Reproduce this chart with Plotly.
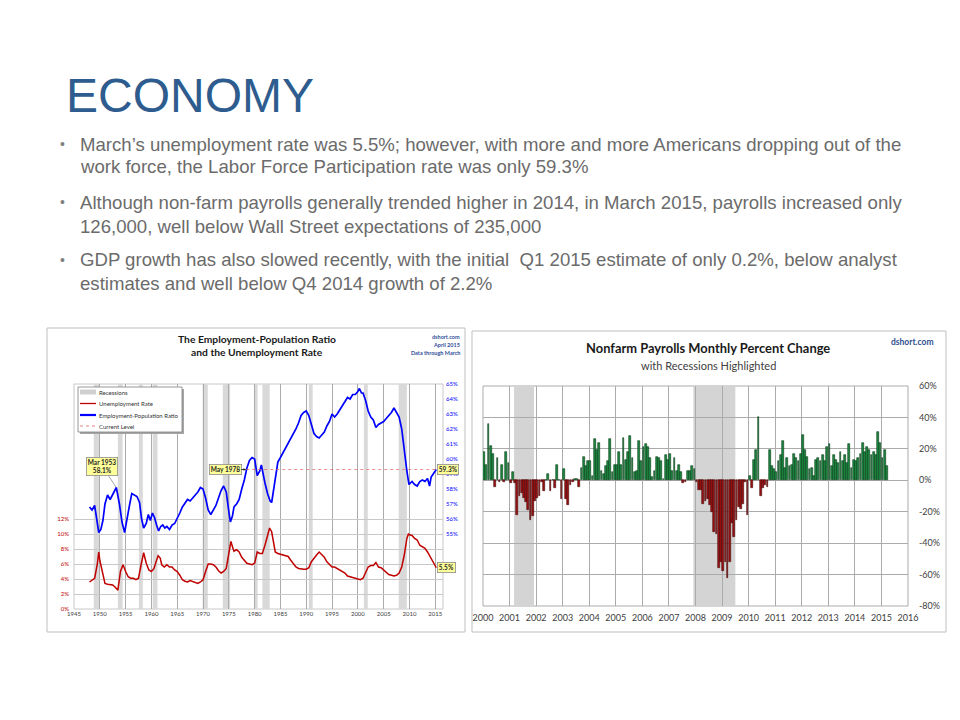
import plotly.graph_objects as go

# The page adds an 8px body margin, so the figure is sized to fill the rest of the window
OFF = 8
W, H = 960 - OFF, 720 - OFF
def px(x): return (x - OFF) / W
def py(y): return 1 - (y - OFF) / H

# ---------------- DATA ----------------
# Recessions (decimal years)
rec_start = [1948.83, 1953.5, 1957.58, 1960.25, 1969.92, 1973.83, 1980.0, 1981.5, 1990.5, 2001.17, 2007.92]
rec_end   = [1949.83, 1954.42, 1958.33, 1961.17, 1970.92, 1975.25, 1980.58, 1982.92, 1991.25, 2001.92, 2009.5]

# Employment-Population Ratio (%)
ep_year = [1948.0, 1948.5, 1949.0, 1949.4, 1949.8, 1950.2, 1950.6, 1951.0, 1951.5, 1952.0, 1952.5, 1953.2,
           1953.8, 1954.3, 1954.8, 1955.3, 1955.8, 1956.2, 1956.7, 1957.2, 1957.7, 1958.1, 1958.5, 1959.0,
           1959.4, 1959.8, 1960.2, 1960.6, 1961.0, 1961.4, 1961.8, 1962.2, 1962.6, 1963.0, 1963.5, 1964.0,
           1964.5, 1965.0, 1965.5, 1966.0, 1966.5, 1967.0, 1967.5, 1968.0, 1968.5, 1969.0, 1969.5, 1970.0,
           1970.5, 1971.0, 1971.5, 1972.0, 1972.5, 1973.0, 1973.5, 1974.0, 1974.5, 1975.0, 1975.3, 1975.7,
           1976.0, 1976.5, 1977.0, 1977.5, 1978.0, 1978.5, 1979.0, 1979.5, 1980.0, 1980.5, 1981.0, 1981.3,
           1981.7, 1982.0, 1982.5, 1983.0, 1983.3, 1983.7, 1984.0, 1984.5, 1985.0, 1985.5, 1986.0, 1986.5,
           1987.0, 1987.5, 1988.0, 1988.5, 1989.0, 1989.5, 1990.0, 1990.5, 1991.0, 1991.5, 1992.0, 1992.5,
           1993.0, 1993.5, 1994.0, 1994.5, 1995.0, 1995.5, 1996.0, 1996.5, 1997.0, 1997.5, 1998.0, 1998.5,
           1999.0, 1999.5, 2000.0, 2000.3, 2000.7, 2001.0, 2001.5, 2002.0, 2002.5, 2003.0, 2003.5, 2004.0,
           2004.5, 2005.0, 2005.5, 2006.0, 2006.5, 2007.0, 2007.5, 2008.0, 2008.5, 2009.0, 2009.5, 2009.9,
           2010.5, 2011.0, 2011.5, 2012.0, 2012.5, 2013.0, 2013.5, 2013.9, 2014.2, 2014.6, 2015.0, 2015.2]
ep_val = [56.8, 56.6, 56.9, 56.0, 55.1, 55.3, 55.9, 57.0, 57.6, 57.3, 57.6, 58.1,
          57.0, 55.8, 55.1, 56.2, 57.0, 57.7, 57.6, 57.5, 57.1, 56.0, 55.4, 55.7,
          56.3, 55.9, 56.4, 56.1, 55.6, 55.2, 55.5, 55.6, 55.4, 55.5, 55.3, 55.6,
          55.7, 56.0, 56.4, 56.8, 57.1, 57.3, 57.2, 57.4, 57.6, 57.8, 58.1, 58.0,
          57.4, 56.6, 56.3, 56.6, 56.9, 57.4, 57.9, 58.2, 57.8, 56.5, 55.8, 56.2,
          56.8, 57.0, 57.3, 58.0, 58.6, 59.4, 59.9, 60.1, 60.0, 58.9, 59.2, 59.6,
          58.8, 58.4, 57.7, 57.2, 57.1, 58.0, 59.0, 59.8, 60.1, 60.4, 60.7, 61.0,
          61.3, 61.7, 62.0, 62.4, 62.9, 63.1, 63.2, 62.9, 62.3, 61.7, 61.5, 61.4,
          61.6, 61.8, 62.2, 62.5, 63.0, 62.8, 63.0, 63.3, 63.6, 63.9, 64.1, 64.0,
          64.3, 64.3, 64.5, 64.7, 64.4, 64.4, 63.9, 63.2, 62.8, 62.6, 62.1, 62.3,
          62.4, 62.5, 62.7, 62.9, 63.1, 63.4, 63.1, 62.8, 62.0, 60.4, 59.2, 58.3,
          58.5, 58.3, 58.2, 58.5, 58.6, 58.5, 58.7, 58.2, 58.8, 59.0, 59.2, 59.3]

# Unemployment Rate (%)
ur_year = [1948.0, 1948.5, 1949.0, 1949.5, 1949.8, 1950.0, 1950.5, 1951.0, 1951.5, 1952.0, 1952.5, 1953.0,
           1953.5, 1954.0, 1954.5, 1955.0, 1955.5, 1956.0, 1956.5, 1957.0, 1957.5, 1958.0, 1958.5, 1959.0,
           1959.5, 1960.0, 1960.5, 1961.0, 1961.3, 1961.7, 1962.0, 1962.5, 1963.0, 1963.5, 1964.0, 1964.5,
           1965.0, 1965.5, 1966.0, 1966.5, 1967.0, 1967.5, 1968.0, 1968.5, 1969.0, 1969.5, 1970.0, 1970.5,
           1971.0, 1971.5, 1972.0, 1972.5, 1973.0, 1973.5, 1974.0, 1974.5, 1975.0, 1975.4, 1975.8, 1976.0,
           1976.5, 1977.0, 1977.5, 1978.0, 1978.5, 1979.0, 1979.5, 1980.0, 1980.5, 1981.0, 1981.5, 1982.0,
           1982.5, 1982.9, 1983.3, 1983.7, 1984.0, 1984.5, 1985.0, 1985.5, 1986.0, 1986.5, 1987.0, 1987.5,
           1988.0, 1988.5, 1989.0, 1989.5, 1990.0, 1990.5, 1991.0, 1991.5, 1992.0, 1992.5, 1993.0, 1993.5,
           1994.0, 1994.5, 1995.0, 1995.5, 1996.0, 1996.5, 1997.0, 1997.5, 1998.0, 1998.5, 1999.0, 1999.5,
           2000.0, 2000.5, 2001.0, 2001.5, 2002.0, 2002.5, 2003.0, 2003.5, 2004.0, 2004.5, 2005.0, 2005.5,
           2006.0, 2006.5, 2007.0, 2007.5, 2008.0, 2008.5, 2009.0, 2009.5, 2009.8, 2010.0, 2010.5, 2011.0,
           2011.5, 2012.0, 2012.5, 2013.0, 2013.5, 2014.0, 2014.5, 2015.0, 2015.2]
ur_val = [3.6, 3.8, 4.1, 5.9, 7.6, 6.5, 5.0, 3.4, 3.3, 3.2, 3.2, 2.9,
          2.5, 5.0, 5.9, 5.0, 4.3, 4.1, 4.1, 3.9, 4.1, 5.9, 7.5, 6.1,
          5.2, 5.0, 5.4, 6.5, 7.1, 6.8, 5.9, 5.6, 5.9, 5.6, 5.6, 5.2,
          5.0, 4.5, 3.9, 3.7, 3.6, 3.8, 3.7, 3.6, 3.4, 3.6, 3.9, 5.0,
          6.0, 6.0, 5.9, 5.6, 5.1, 4.8, 5.0, 5.4, 7.6, 9.0, 8.1, 7.7,
          7.9, 7.6, 6.9, 6.5, 6.1, 6.0, 5.9, 6.1, 7.6, 7.4, 7.4, 8.5,
          9.7, 10.8, 10.3, 8.5, 7.6, 7.4, 7.3, 7.2, 7.2, 7.0, 6.5, 6.1,
          5.6, 5.4, 5.3, 5.3, 5.3, 5.5, 6.3, 6.8, 7.2, 7.6, 7.2, 6.9,
          6.3, 5.9, 5.6, 5.6, 5.4, 5.1, 4.9, 4.8, 4.4, 4.3, 4.2, 4.1,
          4.0, 3.9, 4.1, 4.8, 5.6, 5.8, 5.8, 6.2, 5.6, 5.5, 5.2, 5.0,
          4.6, 4.5, 4.4, 4.5, 4.8, 5.6, 7.2, 9.4, 10.0, 9.9, 9.8, 9.4,
          9.2, 8.5, 8.3, 8.1, 7.6, 7.0, 6.3, 5.6, 5.5]

current_level = 59.3
current_from = 1978.37   # May 1978
current_to = 2015.2

# Nonfarm payrolls monthly percent change, Jan 2000 - Mar 2015
payroll_pct = [
    18, 10, 36, 22, 17, -4, 14, -1, 10, -1, 18, 11,            # 2000
    -2, 5, -2, -22, -10, -8, -11, -14, -19, -25, -23, -13,     # 2001
    -11, -10, -1, -7, 0.5, 4, -7, 0.5, -5, 10, 0.5, -12,       # 2002
    7, -12, -16, -3, -1, 1, 1, -4, 8, 15, 9, 12,               # 2003
    12, 3, 26, 19, 24, 6, 4, 9, 12, 26, 5, 10,                 # 2004
    10, 18, 10, 27, 13, 18, 28, 14, 5, 6, 25, 12,              # 2005
    21, 23, 21, 14, 2, 6, 15, 14, 12, 1, 16, 13,               # 2006
    17, 6, 14, 6, 10, 5, -2, -1, 6, 6, 9, 7,                   # 2007
    -1, -6, -6, -15, -13, -12, -16, -20, -33, -34, -56, -52,   # 2008
    -58, -52, -62, -52, -27, -36, -25, -17, -18, -15, -1, -22, # 2009
    3, -5, 13, 19, 40, -10, -5, -3, -4, 19, 9, 7,              # 2010
    5, 12, 16, 25, 8, 14, 9, 10, 17, 14, 12, 17,               # 2011
    29, 19, 15, 7, 8, 3, 13, 14, 12, 16, 12, 21,               # 2012
    23, 9, 16, 13, 11, 18, 12, 16, 11, 23, 8, 13,              # 2013
    12, 14, 17, 24, 18, 21, 19, 16, 18, 16, 31, 24,            # 2014
    14, 19, 9,                                                 # 2015
]

left_x_ticks = list(range(1945, 2016, 5))
left_y_ticks = list(range(0, 13, 2))
right_y_ticks = list(range(55, 66, 1))
bar_x_ticks = list(range(2000, 2017))
bar_y_ticks = list(range(-80, 61, 20))

# ---------------- STYLE ----------------
RED = "#C00000"
BLUE = "#0000FF"
GRID = "#ABABAB"
FONT = "Lato, Liberation Sans, Arial"
TXT = "#404040"

fig = go.Figure()

# Left chart traces
fig.add_trace(go.Scatter(x=ur_year, y=ur_val, mode="lines", line=dict(color=RED, width=1.5),
                         xaxis="x", yaxis="y", showlegend=False, hoverinfo="skip"))
fig.add_trace(go.Scatter(x=ep_year, y=ep_val, mode="lines", line=dict(color=BLUE, width=1.7),
                         xaxis="x", yaxis="y2", showlegend=False, hoverinfo="skip"))

# Right chart bars
months = [2000 + (i + 0.5) / 12 for i in range(len(payroll_pct))]
fill = ["#1A8A40" if v >= 0 else "#9E1212" for v in payroll_pct]
edge = ["#0C3A1A" if v >= 0 else "#430606" for v in payroll_pct]
fig.add_trace(go.Bar(x=months, y=payroll_pct, width=0.8 / 12,
                     marker=dict(color=fill, line=dict(color=edge, width=0.6)),
                     xaxis="x2", yaxis="y3", showlegend=False, hoverinfo="skip"))

shapes = []
# panel frames
shapes.append(dict(type="rect", xref="paper", yref="paper", x0=px(47), x1=px(465), y0=py(632), y1=py(328),
                   line=dict(color="#BFBFBF", width=1), fillcolor="rgba(0,0,0,0)", layer="below"))
shapes.append(dict(type="rect", xref="paper", yref="paper", x0=px(472), x1=px(946), y0=py(632), y1=py(331),
                   line=dict(color="#BFBFBF", width=1), fillcolor="rgba(0,0,0,0)", layer="below"))
# plot frames
shapes.append(dict(type="rect", xref="paper", yref="paper", x0=px(74), x1=px(443), y0=py(609), y1=py(384),
                   line=dict(color="#C8C8C8", width=1), fillcolor="rgba(0,0,0,0)", layer="below"))
shapes.append(dict(type="rect", xref="paper", yref="paper", x0=px(483), x1=px(908), y0=py(606), y1=py(386),
                   line=dict(color=GRID, width=1), fillcolor="rgba(0,0,0,0)", layer="below"))

# recession bands
for s, e in zip(rec_start, rec_end):
    shapes.append(dict(type="rect", xref="x", yref="paper", x0=s, x1=e, y0=py(609), y1=py(384),
                       fillcolor="#D9D9D9", line=dict(width=0), layer="below"))
    if s >= 2000:
        shapes.append(dict(type="rect", xref="x2", yref="paper", x0=s, x1=e, y0=py(606), y1=py(386),
                           fillcolor="#D4D4D4", line=dict(width=0), layer="below"))

# current level dotted line
shapes.append(dict(type="line", xref="x", yref="y2", x0=current_from, x1=current_to,
                   y0=current_level, y1=current_level, line=dict(color="#E06060", width=0.7, dash="dot")))

# legend box (left chart)
shapes.append(dict(type="rect", xref="paper", yref="paper", x0=px(80), x1=px(184), y0=py(434), y1=py(389),
                   fillcolor="#A6A6A6", line=dict(width=0), layer="above"))
shapes.append(dict(type="rect", xref="paper", yref="paper", x0=px(78), x1=px(182), y0=py(432), y1=py(387),
                   fillcolor="white", line=dict(color="#7F7F7F", width=0.8), layer="above"))
leg_items = [("Recessions", "#D0D0D0", 5, "solid", 392),
             ("Unemployment Rate", RED, 1.3, "solid", 403.5),
             ("Employment-Population Ratio", BLUE, 2.2, "solid", 415),
             ("Current Level", "#E06060", 0.8, "dot", 426)]
annotations = []
for name, col, wd, dash, yy in leg_items:
    shapes.append(dict(type="line", xref="paper", yref="paper", x0=px(80), x1=px(96), y0=py(yy), y1=py(yy),
                       line=dict(color=col, width=wd, dash=dash), layer="above"))
    annotations.append(dict(text=name, xref="paper", yref="paper", x=px(96.5), y=py(yy), xanchor="left",
                            yanchor="middle", showarrow=False, font=dict(family=FONT, size=6, color="#333333")))

# ---- callouts on left chart ----
callout = dict(bgcolor="#FFFF99", bordercolor="#8C8C8C", borderwidth=0.8, borderpad=1,
               font=dict(family=FONT, size=6.5, color="#262626"))
annotations.append(dict(text="<b>Mar 1953<br>58.1%</b>", x=1953.2, y=58.1, xref="x", yref="y2",
                        showarrow=True, arrowhead=0, arrowwidth=0.8, arrowcolor="#8C8C8C",
                        ax=-14, ay=-21, **callout))
annotations.append(dict(text="<b>May 1978</b>", x=current_from, y=current_level, xref="x", yref="y2",
                        showarrow=True, arrowhead=2, arrowsize=0.6, arrowwidth=0.9, arrowcolor="#262626",
                        ax=-21, ay=0, **callout))
annotations.append(dict(text="<b>59.3%</b>", x=current_to, y=current_level, xref="x", yref="y2",
                        showarrow=False, xanchor="left", xshift=1, **callout))
annotations.append(dict(text="<b>5.5%</b>", x=ur_year[-1], y=ur_val[-1], xref="x", yref="y",
                        showarrow=False, xanchor="left", xshift=1, **callout))

# ---- chart titles ----
annotations.append(dict(text="<b>The Employment-Population Ratio</b>", x=px(257), y=py(339), xref="paper",
                        yref="paper", xanchor="center", yanchor="middle", showarrow=False,
                        font=dict(family=FONT, size=10.3, color="#1A1A1A")))
annotations.append(dict(text="<b>and the Unemployment Rate</b>", x=px(257), y=py(352), xref="paper",
                        yref="paper", xanchor="center", yanchor="middle", showarrow=False,
                        font=dict(family=FONT, size=10.3, color="#1A1A1A")))
for t, yy in [("<b>dshort.com</b>", 337), ("<b>April 2015</b>", 344.5), ("<b>Data through March</b>", 352.5)]:
    annotations.append(dict(text=t, x=px(462), y=py(yy), xref="paper", yref="paper", xanchor="right",
                            yanchor="middle", showarrow=False,
                            font=dict(family=FONT, size=5.5, color="#2F4F9A")))

annotations.append(dict(text="<b>Nonfarm Payrolls Monthly Percent Change</b>", x=px(708), y=py(348),
                        xref="paper", yref="paper", xanchor="center", yanchor="middle", showarrow=False,
                        font=dict(family=FONT, size=12.9, color="#1A1A1A")))
annotations.append(dict(text="with Recessions Highlighted", x=px(708), y=py(365), xref="paper", yref="paper",
                        xanchor="center", yanchor="middle", showarrow=False,
                        font=dict(family=FONT, size=11, color="#404040")))
annotations.append(dict(text="<b>dshort.com</b>", x=px(936), y=py(342), xref="paper", yref="paper",
                        xanchor="right", yanchor="middle", showarrow=False,
                        font=dict(family=FONT, size=8.5, color="#2F4F8F")))

# ---- slide title and bullets ----
annotations.append(dict(text="ECONOMY", x=px(64), y=py(96), xref="paper", yref="paper", xanchor="left",
                        yanchor="middle", showarrow=False,
                        font=dict(family="Liberation Sans, Arial", size=48, color="#2E5C8E")))
bullet_lines = [
    ("March’s unemployment rate was 5.5%; however, with more and more Americans dropping out of the", 144, True),
    ("work force, the Labor Force Participation rate was only 59.3%", 167, False),
    ("Although non-farm payrolls generally trended higher in 2014, in March 2015, payrolls increased only", 202, True),
    ("126,000, well below Wall Street expectations of 235,000", 226, False),
    ("GDP growth has also slowed recently, with the initial  Q1 2015 estimate of only 0.2%, below analyst", 260, True),
    ("estimates and well below Q4 2014 growth of 2.2%", 284, False),
]
for txt, yy, has_bullet in bullet_lines:
    annotations.append(dict(text=txt, x=px(78), y=py(yy), xref="paper", yref="paper", xanchor="left",
                            yanchor="middle", showarrow=False,
                            font=dict(family="Liberation Sans, Arial", size=18.6, color="#6B6B6B")))
    if has_bullet:
        annotations.append(dict(text="•", x=px(62), y=py(yy), xref="paper", yref="paper", xanchor="center",
                                yanchor="middle", showarrow=False,
                                font=dict(family="Liberation Sans, Arial", size=14, color="#7F7F7F")))

fig.update_layout(
    width=W, height=H, autosize=False,
    margin=dict(l=0, r=0, t=0, b=0, pad=0),
    paper_bgcolor="white", plot_bgcolor="rgba(0,0,0,0)",
    showlegend=False, bargap=0,
    shapes=shapes, annotations=annotations,
    xaxis=dict(domain=[px(74), px(443)], range=[1945, 2016.5], anchor="y", automargin=False,
               tickvals=left_x_ticks, ticktext=[str(v) for v in left_x_ticks],
               showgrid=True, gridcolor=GRID, gridwidth=1, zeroline=False, showline=False,
               ticks="", tickfont=dict(family=FONT, size=6, color=TXT)),
    yaxis=dict(domain=[py(609), py(384)], range=[0, 30], anchor="x", automargin=False,
               tickvals=left_y_ticks, ticktext=[f"{v}%" for v in left_y_ticks],
               showgrid=True, gridcolor="#C8C8C8", gridwidth=1, zeroline=False, showline=False,
               ticks="", ticklabelstandoff=4, tickfont=dict(family=FONT, size=6, color=RED)),
    yaxis2=dict(domain=[py(609), py(384)], range=[50, 65], anchor="x", overlaying="y", side="right",
                automargin=False,
                tickvals=right_y_ticks, ticktext=[f"{v}%" for v in right_y_ticks],
                showgrid=False, zeroline=False, showline=False, ticks="", ticklabelstandoff=2,
                tickfont=dict(family=FONT, size=6, color=BLUE)),
    xaxis2=dict(domain=[px(483), px(908)], range=[2000, 2016], anchor="y3", automargin=False,
                tickvals=bar_x_ticks, ticktext=[str(v) for v in bar_x_ticks],
                showgrid=True, gridcolor=GRID, gridwidth=1, zeroline=False, showline=False,
                ticks="", ticklabelstandoff=5, tickfont=dict(family=FONT, size=9, color=TXT)),
    yaxis3=dict(domain=[py(606), py(386)], range=[-80, 60], anchor="x2", side="right", automargin=False,
                tickvals=bar_y_ticks, ticktext=[f"{v}%" for v in bar_y_ticks],
                showgrid=True, gridcolor=GRID, gridwidth=1, zeroline=False, showline=False,
                ticks="", ticklabelstandoff=10, tickfont=dict(family=FONT, size=9, color=TXT)),
)

fig.write_html("out.html")
